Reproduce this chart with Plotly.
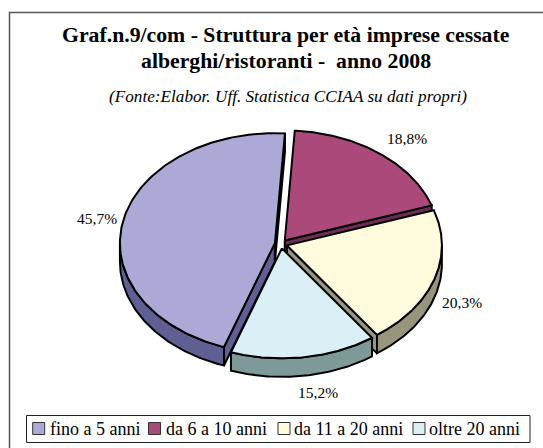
import numpy as np
import plotly.graph_objects as go

categories = ["fino a 5 anni", "da 6 a 10 anni", "da 11 a 20 anni", "oltre 20 anni"]
values = [45.7, 18.8, 20.3, 15.2]
labels = ["45,7%", "18,8%", "20,3%", "15,2%"]
top_colors = ["#ACA9D6", "#AC497B", "#FFFBDC", "#DBEFF7"]
side_colors = ["#5F5F94", "#6B2D55", "#97967D", "#7D9A98"]
label_pos = [(97, 218), (407, 138), (462, 302.5), (318, 392)]
legend_swatch_x = [32.7, 148.5, 278, 413]
legend_text_x = [47.5, 163.5, 291.5, 426.5]

CX, CY, A, B, DEPTH, EXPLODE = 281.0, 244.0, 155.0, 110.0, 18.5, 0.04
ROT = 3.7
LW = 2

total = sum(values)
spans = [v / total * 360 for v in values]
# slices run clockwise; the first slice starts after the other three
starts = {}
ang = ROT
for i in [1, 2, 3, 0]:
    starts[i] = ang
    ang += spans[i]


def pt(t, cx, cy):
    r = np.radians(t)
    return cx + A * np.sin(r), cy - B * np.cos(r)


def apex(i):
    mid = starts[i] + spans[i] / 2
    r = np.radians(mid)
    return CX + EXPLODE * A * np.sin(r), CY - EXPLODE * B * np.cos(r)


def poly(fig, xs, ys, color):
    fig.add_trace(go.Scatter(x=list(xs), y=list(ys), mode="lines", fill="toself",
                             fillcolor=color, line=dict(color="black", width=LW),
                             hoverinfo="skip", showlegend=False))


fig = go.Figure()

for i in [1, 2, 0, 3]:  # back to front
    s, e = starts[i], starts[i] + spans[i]
    ax, ay = apex(i)
    # radial cut faces
    for t, sign in ((s, -1), (e, 1)):
        px, py = pt(t, ax, ay)
        dx, dy = px - ax, py - ay
        # outward normal (screen coordinates, y down)
        nx, ny = (-dy, dx) if sign == 1 else (dy, -dx)
        if ny > 0:
            poly(fig, [ax, px, px, ax, ax], [ay, py, py + DEPTH, ay + DEPTH, ay], side_colors[i])
    # outer wall: lower half of the ellipse only
    lo, hi = None, None
    for base in (0, 360):
        a0, b0 = max(s, base + 90), min(e, base + 270)
        if a0 < b0:
            lo, hi = a0, b0
    if lo is not None:
        ts = np.linspace(lo, hi, 80)
        xs, ys = pt(ts, ax, ay)
        poly(fig, np.r_[xs, xs[::-1], xs[0]], np.r_[ys, ys[::-1] + DEPTH, ys[0]], side_colors[i])
    # top face
    ts = np.linspace(s, e, 160)
    xs, ys = pt(ts, ax, ay)
    poly(fig, np.r_[ax, xs, ax], np.r_[ay, ys, ay], top_colors[i])

shapes = [
    dict(type="rect", x0=9.5, y0=12.5, x1=560, y1=470,
         line=dict(color="#555555", width=1.5), fillcolor="rgba(0,0,0,0)", layer="below"),
    dict(type="rect", x0=26.5, y0=415.5, x1=530, y1=442.5,
         line=dict(color="#222222", width=1), fillcolor="white"),
]
for x, c in zip(legend_swatch_x, top_colors):
    shapes.append(dict(type="rect", x0=x, y0=422.5, x1=x + 12, y1=434.5,
                       line=dict(color="#333333", width=1), fillcolor=c))

ann = []


def text(x, y, s, size, anchor="center", **font):
    ann.append(dict(x=x, y=y, xref="x", yref="y", text=s, showarrow=False,
                    xanchor=anchor, yanchor="middle",
                    font=dict(family="Liberation Serif", size=size, color="black", **font)))


text(286.2, 35, "<b>Graf.n.9/com - Struttura per età imprese cessate</b>", 21.75)
text(286.2, 61, "<b>alberghi/ristoranti -  anno 2008</b>", 21.75)
text(287.5, 96.5, "<i>(Fonte:Elabor. Uff. Statistica CCIAA su dati propri)</i>", 17.2)
for (x, y), s in zip(label_pos, labels):
    text(x, y, s, 15.5)
for x, s in zip(legend_text_x, categories):
    text(x, 429, s, 18, anchor="left")

fig.update_layout(
    width=543, height=448, margin=dict(l=0, r=0, t=0, b=0),
    paper_bgcolor="white", plot_bgcolor="white", showlegend=False,
    xaxis=dict(range=[0, 543], visible=False, fixedrange=True),
    yaxis=dict(range=[448, 0], visible=False, fixedrange=True),
    shapes=shapes, annotations=ann,
)
fig.write_html("out.html", config={"displayModeBar": False},
               post_script="document.body.style.margin='0';document.body.style.overflow='hidden';")
